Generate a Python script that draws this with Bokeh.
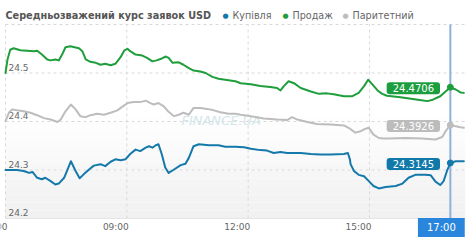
from bokeh.plotting import figure
from bokeh.models import Range1d
from bokeh.core.properties import value
from bokeh.embed import file_html
from bokeh.resources import INLINE

TITLE = "Середньозважений курс заявок USD"
SERIES_NAMES = ["Купівля", "Продаж", "Паритетний"]
SERIES_COLORS = ["#1479aa", "#1f9e3c", "#bdbdbd"]
BOX_COLORS = ["#1179a9", "#1c9e3e", "#bcbcbc"]

sell_time = ["06:00","06:03","06:07","06:12","06:22","06:32","06:42","06:47","06:54","07:02","07:07","07:14","07:19","07:24","07:29","07:36","07:49","07:54","07:59","08:06","08:14","08:21","08:28","08:36","08:43","08:51","08:56","09:01","09:05","09:13","09:23","09:30","09:38","09:44","09:52","09:58","10:02","10:08","10:17","10:24","10:32","10:39","10:49","10:57","11:07","11:16","11:26","11:41","11:49","12:04","12:18","12:33","12:43","12:48","12:53","13:00","13:08","13:18","13:33","13:45","13:57","14:07","14:22","14:34","14:44","14:52","14:58","15:04","15:12","15:19","15:26","15:46","16:17","16:26","16:34","16:45","16:53","17:00","17:08","17:15","17:20"]
sell_rate = [24.500,24.528,24.548,24.551,24.547,24.546,24.545,24.546,24.538,24.528,24.526,24.528,24.526,24.538,24.553,24.555,24.551,24.545,24.528,24.523,24.521,24.517,24.519,24.516,24.519,24.533,24.546,24.550,24.545,24.538,24.536,24.531,24.524,24.526,24.530,24.534,24.531,24.521,24.522,24.517,24.510,24.505,24.503,24.500,24.492,24.488,24.486,24.483,24.479,24.477,24.473,24.471,24.469,24.464,24.473,24.483,24.479,24.469,24.462,24.457,24.458,24.456,24.452,24.452,24.459,24.473,24.486,24.477,24.464,24.457,24.453,24.450,24.444,24.442,24.445,24.452,24.462,24.4706,24.466,24.460,24.459]

par_time = ["06:00","06:05","06:10","06:17","06:27","06:37","06:47","06:57","07:07","07:17","07:22","07:29","07:37","07:44","07:51","07:59","08:06","08:16","08:26","08:36","08:46","08:51","09:01","09:10","09:20","09:28","09:35","09:40","09:47","09:55","10:02","10:10","10:17","10:24","10:32","10:39","10:49","10:59","11:09","11:19","11:31","11:41","11:49","12:04","12:23","12:43","12:58","13:05","13:13","13:28","13:42","14:02","14:22","14:29","14:39","14:47","14:52","14:59","15:06","15:14","15:21","15:29","15:53","16:18","16:38","16:48","16:53","17:00","17:08","17:15","17:20"]
par_rate = [24.401,24.418,24.425,24.423,24.421,24.418,24.413,24.407,24.404,24.399,24.404,24.421,24.435,24.425,24.411,24.409,24.413,24.416,24.414,24.418,24.423,24.428,24.438,24.440,24.440,24.443,24.438,24.435,24.438,24.431,24.420,24.411,24.414,24.418,24.414,24.428,24.428,24.426,24.423,24.419,24.416,24.416,24.414,24.411,24.406,24.404,24.403,24.409,24.404,24.399,24.395,24.394,24.392,24.387,24.377,24.380,24.384,24.387,24.373,24.366,24.365,24.365,24.366,24.365,24.363,24.368,24.380,24.3926,24.390,24.388,24.387]

buy_time = ["06:00","06:17","06:27","06:35","06:40","06:47","06:54","06:59","07:07","07:14","07:19","07:27","07:37","07:44","07:50","07:56","08:04","08:11","08:21","08:28","08:36","08:43","08:51","08:58","09:05","09:13","09:20","09:28","09:33","09:38","09:43","09:47","09:52","09:57","10:02","10:10","10:20","10:27","10:32","10:39","10:47","11:02","11:16","11:26","11:41","11:54","12:04","12:18","12:28","12:38","12:48","12:58","13:18","13:33","13:47","14:02","14:22","14:28","14:31","14:32","14:37","14:44","14:52","14:59","15:06","15:14","15:24","15:39","15:49","15:58","16:08","16:23","16:31","16:38","16:45","16:50","16:55","17:00","17:08","17:20"]
buy_rate = [24.300,24.300,24.298,24.294,24.296,24.284,24.281,24.284,24.277,24.270,24.272,24.284,24.318,24.298,24.283,24.291,24.301,24.309,24.312,24.308,24.317,24.322,24.320,24.322,24.333,24.342,24.339,24.346,24.349,24.346,24.351,24.353,24.332,24.305,24.294,24.301,24.310,24.313,24.325,24.349,24.353,24.351,24.351,24.348,24.348,24.347,24.344,24.341,24.340,24.335,24.337,24.335,24.335,24.333,24.332,24.332,24.333,24.335,24.322,24.312,24.298,24.290,24.287,24.277,24.267,24.262,24.265,24.267,24.272,24.284,24.290,24.290,24.289,24.276,24.269,24.277,24.298,24.3145,24.318,24.318]

last_time = "17:00"
last_values = [24.3145, 24.4706, 24.3926]
last_labels = ["24.3145", "24.4706", "24.3926"]

x_tick_labels = ["06:00", "09:00", "12:00", "15:00"]
y_ticks = [24.2, 24.3, 24.4, 24.5, 24.6]
y_tick_labels = ["24.2", "24.3", "24.4", "24.5"]
x_end_label = "17:22"
watermark = "FINANCE.UA"

assert len(sell_time) == len(sell_rate)
assert len(par_time) == len(par_rate)
assert len(buy_time) == len(buy_rate)


def hours(s):
    h, m = s.split(":")
    return int(h) + int(m) / 60.0


FONT = value("DejaVu Sans")
W, H = 470, 246
# plot area in pixels: left 5, right 465, top 24, bottom 218
PX_PER_H = 40.44
PX_PER_UNIT = 485.0
x0 = hours(x_tick_labels[0])
x_start = x0 - 5 / PX_PER_H
x_end = x0 + (W - 5) / PX_PER_H
y_top, y_bot = max(y_ticks), min(y_ticks)
y_end = y_top + 24 / PX_PER_UNIT
y_start = y_bot - (H - 218) / PX_PER_UNIT
x_right = hours(x_end_label)

p = figure(width=W, height=H, output_backend="svg", toolbar_location=None,
           x_range=Range1d(x_start, x_end), y_range=Range1d(y_start, y_end),
           x_axis_type=None, y_axis_type=None, min_border=0,
           background_fill_color="white", border_fill_color="white")
p.outline_line_color = None
p.grid.visible = False

# soft gradient at bottom of plot area
n_bands = 14
g_top = 24.43
for i in range(n_bands):
    b0 = y_bot + (g_top - y_bot) * i / n_bands
    b1 = y_bot + (g_top - y_bot) * (i + 1) / n_bands
    f = i / (n_bands - 1)
    c = int(round(241 + (255 - 241) * f))
    p.quad(left=x0, right=x_right, bottom=b0, top=b1,
           fill_color=f"#{c:02x}{c:02x}{c:02x}", line_color=None)

# grid lines
x_ticks = [hours(t) for t in x_tick_labels]
p.segment(x0=x_ticks, x1=x_ticks, y0=[y_bot] * len(x_ticks), y1=[y_top] * len(x_ticks),
          line_color="#d9d9d9", line_width=1, line_dash="3 3")
hy = [v for v in y_ticks if v > y_bot]
p.segment(x0=[x0] * len(hy), x1=[x_right] * len(hy), y0=hy, y1=hy,
          line_color="#d9d9d9", line_width=1, line_dash="3 3")
p.segment(x0=[x0], x1=[x_right], y0=[y_bot], y1=[y_bot], line_color="#e4e4e4", line_width=1)

# watermark
p.text(x=[hours("10:21")], y=[24.402], text=[watermark], text_font=FONT,
       text_font_size="13px", text_font_style="italic", text_color="#d3e6ea",
       text_align="left", text_baseline="middle")

# y tick labels (inside the plot)
ylab = [float(s) for s in y_tick_labels]
p.text(x=[x0] * len(ylab), y=ylab, text=y_tick_labels, x_offset=3, y_offset=-6,
       text_font=FONT, text_font_size="9px", text_color="#666666",
       text_align="left", text_baseline="middle")

# x tick labels
p.text(x=x_ticks, y=[y_bot] * len(x_ticks), text=x_tick_labels, x_offset=2, y_offset=8,
       text_font=FONT, text_font_size="9px", text_color="#666666",
       text_align="right", text_baseline="middle")

# crosshair at last time
lt = hours(last_time)
p.segment(x0=[lt], x1=[lt], y0=[y_bot], y1=[y_top], line_color="#8fb1dc", line_width=2)

# series
series = [(buy_time, buy_rate), (sell_time, sell_rate), (par_time, par_rate)]
for (ts, vs), col in zip(series, SERIES_COLORS):
    p.line(x=[hours(t) for t in ts], y=vs, line_color=col, line_width=2,
           line_join="round", line_cap="round")

p.scatter(x=[lt] * 3, y=last_values, size=6, fill_color=SERIES_COLORS,
          line_color=SERIES_COLORS)

# value boxes
for v, lab, col in zip(last_values, last_labels, BOX_COLORS):
    p.text(x=[lt], y=[v], text=[lab], x_offset=-37, y_offset=1,
           text_font=FONT, text_font_size="10px", text_color="white",
           text_align="center", text_baseline="middle",
           background_fill_color=col, border_radius=3,
           padding=dict(left=6, right=6, top=2, bottom=2))

# time box
p.text(x=[lt], y=[y_bot], text=[last_time], x_offset=-9, y_offset=9,
       text_font=FONT, text_font_size="10px", text_color="white",
       text_align="center", text_baseline="middle",
       background_fill_color="#2a86dc",
       padding=dict(left=9, right=9, top=4, bottom=4))

# title
p.text(x=[x0], y=[y_top], text=[TITLE], y_offset=-9, text_font=FONT,
       text_font_size="9.7px", text_font_style="bold", text_color="#555555",
       text_align="left", text_baseline="middle")

# legend
leg_offsets = [220, 280, 340]
for name, col, off in zip(SERIES_NAMES, SERIES_COLORS, leg_offsets):
    p.text(x=[x0], y=[y_top], text=["●"], x_offset=off, y_offset=-9, text_font=FONT,
           text_font_size="7px", text_color=col, text_align="center", text_baseline="middle")
    p.text(x=[x0], y=[y_top], text=[name], x_offset=off + 7, y_offset=-9, text_font=FONT,
           text_font_size="9.6px", text_color="#666666", text_align="left",
           text_baseline="middle")

open("out.html", "w").write(file_html(p, INLINE))
